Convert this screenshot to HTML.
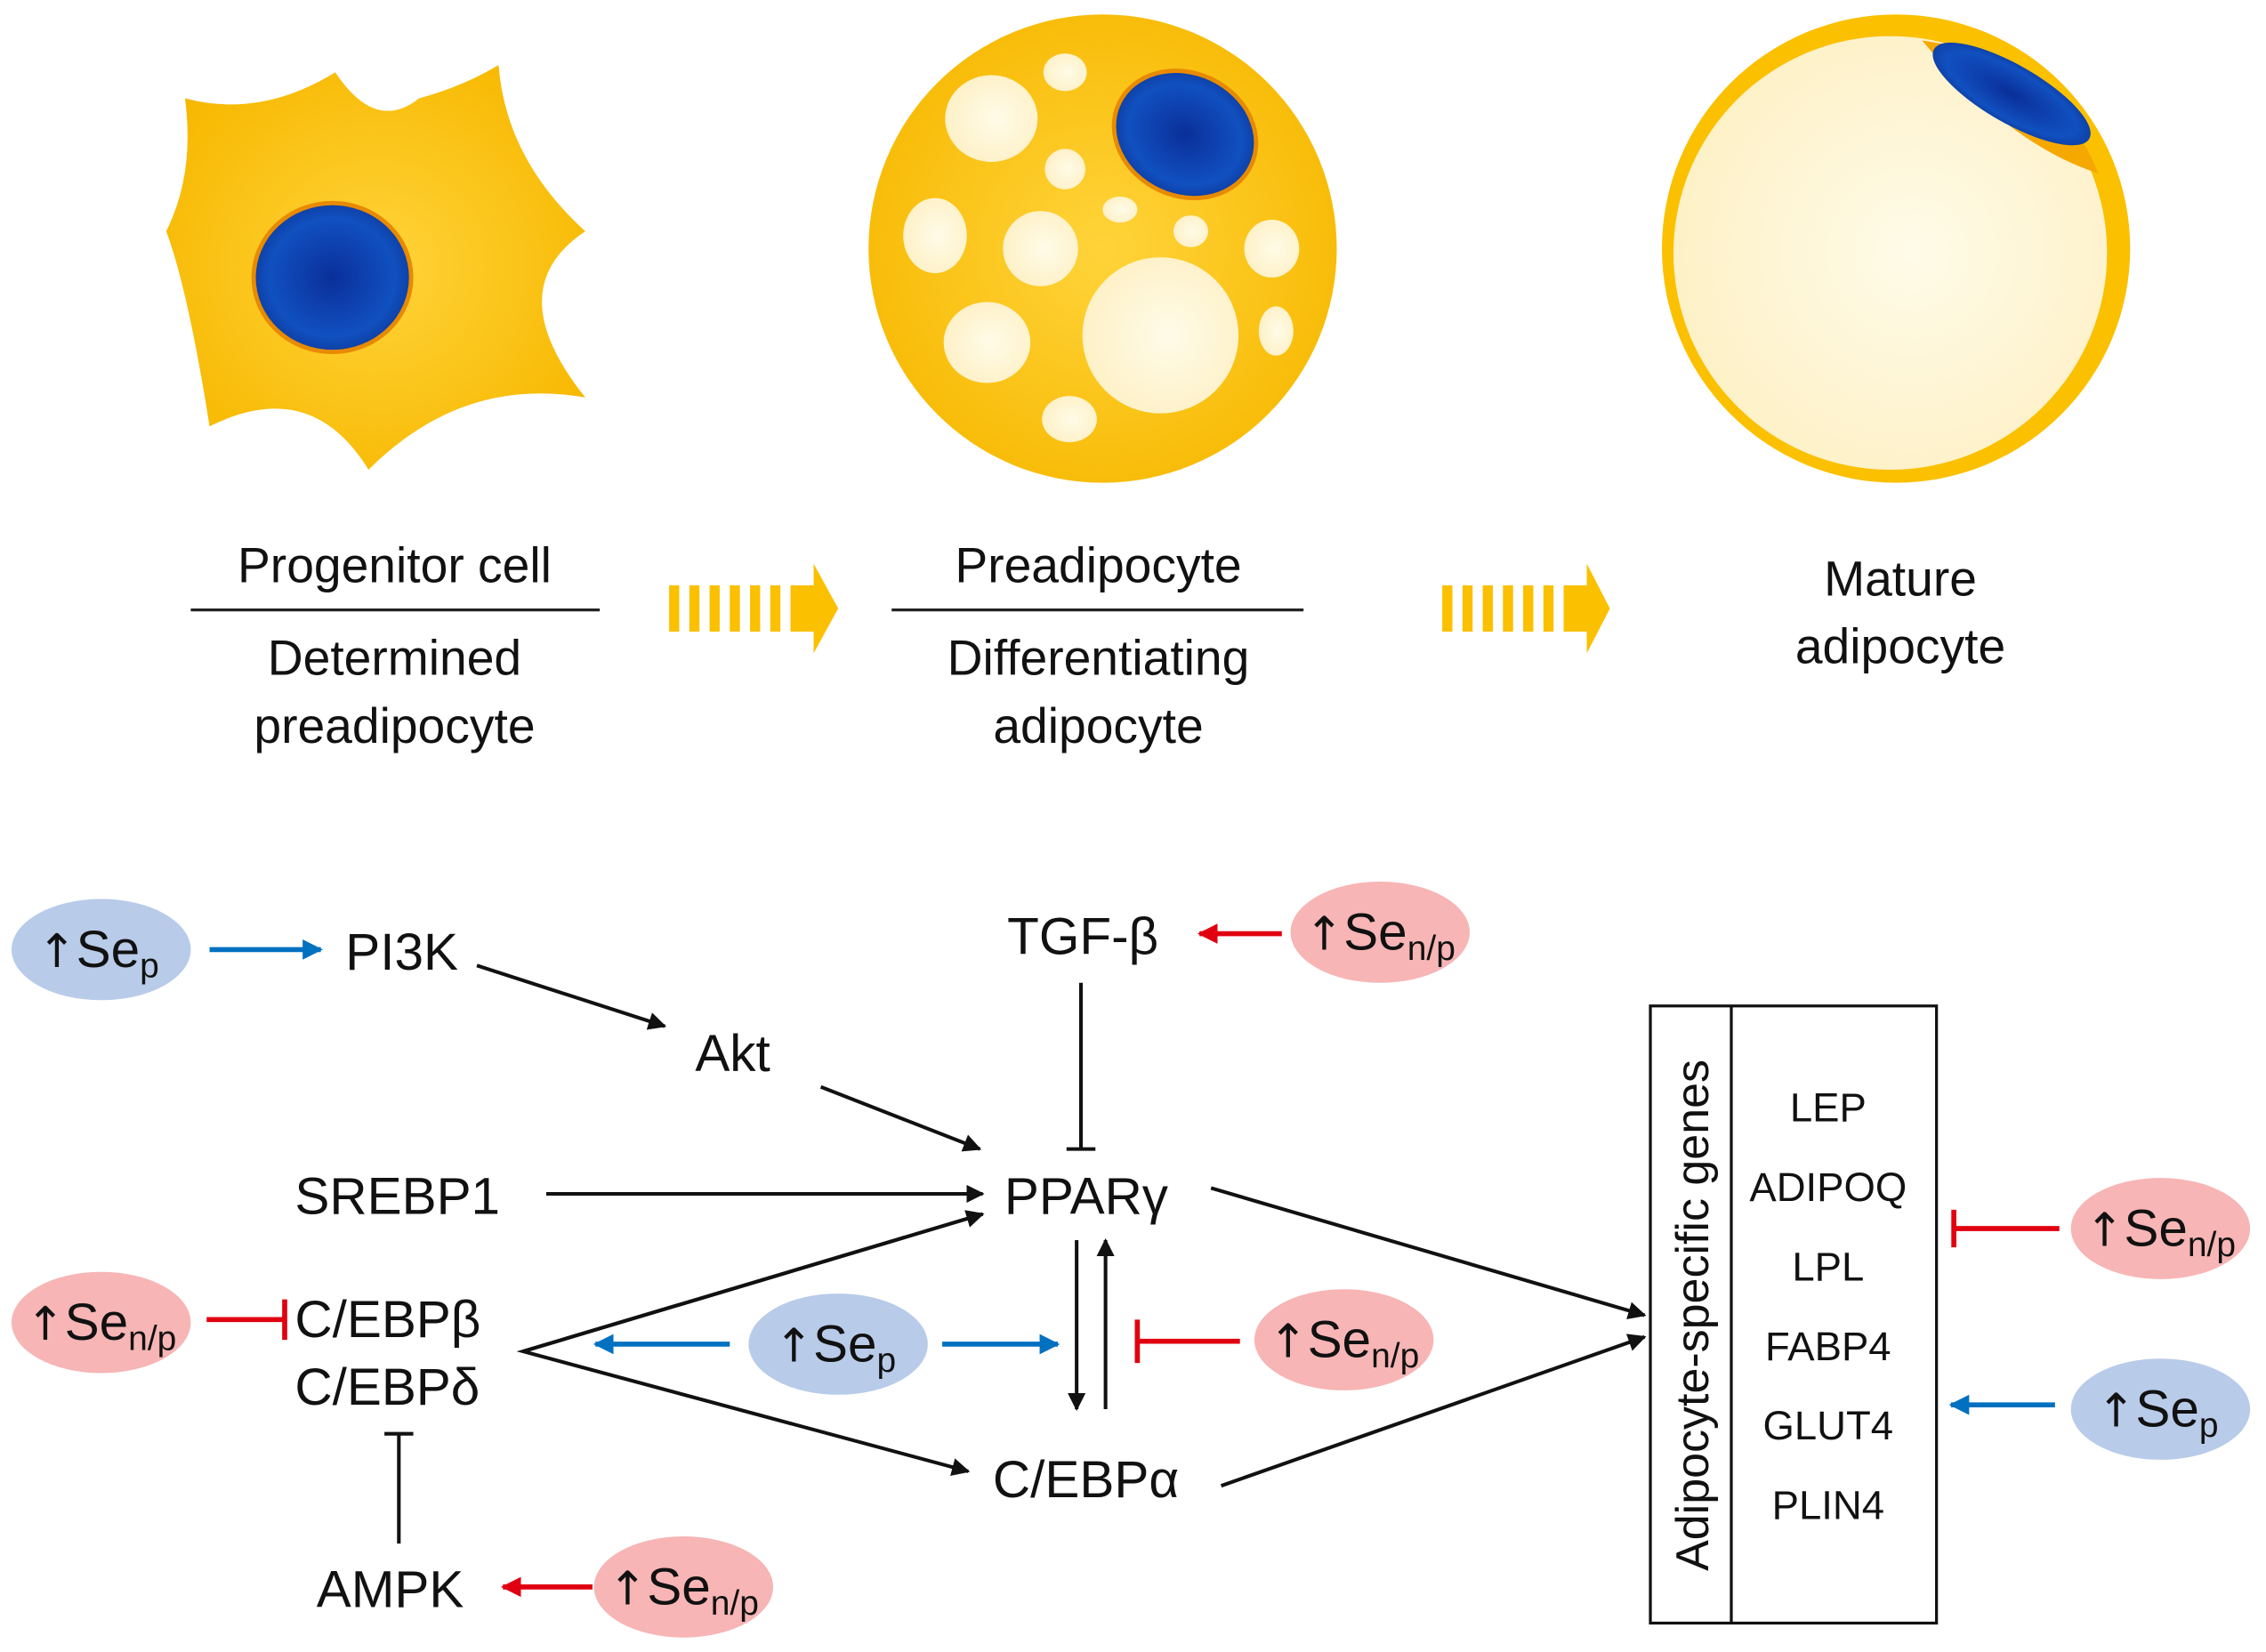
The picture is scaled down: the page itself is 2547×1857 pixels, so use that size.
<!DOCTYPE html>
<html><head><meta charset="utf-8"><style>
html,body{margin:0;padding:0;background:#fff;}
svg{display:block;}
text{font-family:"Liberation Sans",Arial,sans-serif;fill:#111;}
</style></head><body>
<svg width="2547" height="1857" viewBox="0 0 1568 1143" preserveAspectRatio="none" xmlns="http://www.w3.org/2000/svg">
<defs>
<radialGradient id="nuc" cx="0.5" cy="0.5" r="0.55"><stop offset="0" stop-color="#0a2f9a"/><stop offset="0.75" stop-color="#1150c0"/><stop offset="1" stop-color="#0d3a9c"/></radialGradient>
<radialGradient id="cell" cx="0.5" cy="0.5" r="0.6"><stop offset="0" stop-color="#ffd43a"/><stop offset="1" stop-color="#f7b800"/></radialGradient>
<radialGradient id="vac" cx="0.55" cy="0.5" r="0.6"><stop offset="0" stop-color="#fffbe8"/><stop offset="1" stop-color="#fdf0c4"/></radialGradient>
<marker id="ab" viewBox="0 0 10 10" refX="9" refY="5" markerWidth="5" markerHeight="5" orient="auto"><path d="M0,0 L10,5 L0,10 z" fill="#111"/></marker>
<marker id="abl" viewBox="0 0 10 10" refX="9" refY="5" markerWidth="4" markerHeight="4" orient="auto"><path d="M0,0 L10,5 L0,10 z" fill="#0070c0"/></marker>
<marker id="ar" viewBox="0 0 10 10" refX="9" refY="5" markerWidth="4" markerHeight="4" orient="auto"><path d="M0,0 L10,5 L0,10 z" fill="#e00010"/></marker>
</defs>

<path d="M128,68 Q180,82 232,50 Q260,92 290,68 Q320,60 345,45 Q350,110 405,160 Q345,200 405,275 Q320,260 255,325 Q215,260 145,295 Q130,200 115,160 Q135,120 128,68 z" fill="url(#cell)"/>
<ellipse cx="230" cy="192" rx="56" ry="53" fill="#e88a00"/>
<ellipse cx="230" cy="192" rx="53" ry="50" fill="url(#nuc)"/>

<circle cx="763" cy="172" r="162" fill="url(#cell)"/>
<g fill="url(#vac)">
<ellipse cx="686" cy="82" rx="32" ry="30"/>
<ellipse cx="737" cy="50" rx="15" ry="13"/>
<ellipse cx="737" cy="117" rx="14" ry="14"/>
<ellipse cx="647" cy="163" rx="22" ry="26"/>
<ellipse cx="720" cy="172" rx="26" ry="26"/>
<ellipse cx="775" cy="145" rx="12" ry="9"/>
<ellipse cx="824" cy="160" rx="12" ry="11"/>
<ellipse cx="880" cy="172" rx="19" ry="20"/>
<ellipse cx="683" cy="237" rx="30" ry="28"/>
<ellipse cx="803" cy="232" rx="54" ry="54"/>
<ellipse cx="883" cy="229" rx="12" ry="17"/>
<ellipse cx="740" cy="290" rx="19" ry="16"/>
</g>
<ellipse cx="820" cy="93" rx="52" ry="44" transform="rotate(25 820 93)" fill="#e88a00"/>
<ellipse cx="820" cy="93" rx="49" ry="41" transform="rotate(25 820 93)" fill="url(#nuc)"/>

<circle cx="1312" cy="172" r="162" fill="#fbc000"/>
<circle cx="1308" cy="175" r="150" fill="url(#vac)"/>
<path d="M1330,28 Q1420,40 1452,120 Q1390,100 1330,28 z" fill="#f5a800"/>
<ellipse cx="1392" cy="65" rx="62" ry="20" transform="rotate(30 1392 65)" fill="url(#nuc)"/>

<g font-size="34" text-anchor="middle">
<text x="273" y="403">Progenitor cell</text>
<text x="273" y="467">Determined</text>
<text x="273" y="514">preadipocyte</text>
<text x="760" y="403">Preadipocyte</text>
<text x="760" y="467">Differentiating</text>
<text x="760" y="514">adipocyte</text>
<text x="1315" y="412">Mature</text>
<text x="1315" y="459">adipocyte</text>
</g>
<line x1="132" y1="422" x2="415" y2="422" stroke="#222" stroke-width="2"/>
<line x1="617" y1="422" x2="902" y2="422" stroke="#222" stroke-width="2"/>
<g fill="#fbc000">
<rect x="463" y="405" width="7" height="32"/><rect x="477" y="405" width="7" height="32"/><rect x="491" y="405" width="7" height="32"/><rect x="505" y="405" width="7" height="32"/><rect x="519" y="405" width="7" height="32"/><rect x="533" y="405" width="7" height="32"/><rect x="547" y="405" width="18" height="32"/>
<path d="M563,390 L580,421 L563,452 z"/>
<rect x="998" y="405" width="7" height="32"/><rect x="1012" y="405" width="7" height="32"/><rect x="1026" y="405" width="7" height="32"/><rect x="1040" y="405" width="7" height="32"/><rect x="1054" y="405" width="7" height="32"/><rect x="1068" y="405" width="7" height="32"/><rect x="1082" y="405" width="18" height="32"/>
<path d="M1098,390 L1114,421 L1098,452 z"/>
</g>

<g fill="#b8cbe9">
<ellipse cx="70" cy="657" rx="62" ry="35"/>
<ellipse cx="580" cy="930" rx="62" ry="35"/>
<ellipse cx="1495" cy="975" rx="62" ry="35"/>
</g>
<g fill="#f7b5b5">
<ellipse cx="955" cy="645" rx="62" ry="35"/>
<ellipse cx="70" cy="915" rx="62" ry="35"/>
<ellipse cx="930" cy="927" rx="62" ry="35"/>
<ellipse cx="473" cy="1098" rx="62" ry="35"/>
<ellipse cx="1495" cy="850" rx="62" ry="35"/>
</g>
<g font-size="36" text-anchor="middle">
<text x="68" y="669"><tspan font-family="DejaVu Sans" font-size="32">↑</tspan>Se<tspan font-size="24" dy="7">p</tspan></text>
<text x="578" y="942"><tspan font-family="DejaVu Sans" font-size="32">↑</tspan>Se<tspan font-size="24" dy="7">p</tspan></text>
<text x="1493" y="987"><tspan font-family="DejaVu Sans" font-size="32">↑</tspan>Se<tspan font-size="24" dy="7">p</tspan></text>
<text x="955" y="657"><tspan font-family="DejaVu Sans" font-size="32">↑</tspan>Se<tspan font-size="24" dy="7">n/p</tspan></text>
<text x="70" y="927"><tspan font-family="DejaVu Sans" font-size="32">↑</tspan>Se<tspan font-size="24" dy="7">n/p</tspan></text>
<text x="930" y="939"><tspan font-family="DejaVu Sans" font-size="32">↑</tspan>Se<tspan font-size="24" dy="7">n/p</tspan></text>
<text x="473" y="1110"><tspan font-family="DejaVu Sans" font-size="32">↑</tspan>Se<tspan font-size="24" dy="7">n/p</tspan></text>
<text x="1495" y="862"><tspan font-family="DejaVu Sans" font-size="32">↑</tspan>Se<tspan font-size="24" dy="7">n/p</tspan></text>
</g>

<g font-size="36">
<text x="239" y="671">PI3K</text>
<text x="481" y="741">Akt</text>
<text x="697" y="660">TGF-β</text>
<text x="204" y="840">SREBP1</text>
<text x="695" y="840">PPARγ</text>
<text x="204" y="925">C/EBPβ</text>
<text x="204" y="972">C/EBPδ</text>
<text x="687" y="1036">C/EBPα</text>
<text x="219" y="1112">AMPK</text>
</g>

<g stroke="#111" stroke-width="2.5" fill="none">
<line x1="330" y1="668" x2="460" y2="710" marker-end="url(#ab)"/>
<line x1="568" y1="752" x2="678" y2="795" marker-end="url(#ab)"/>
<line x1="378" y1="826" x2="680" y2="826" marker-end="url(#ab)"/>
<polyline points="680,840 362,935 670,1018" marker-end="url(#ab)"/>
<line x1="362" y1="935" x2="680" y2="840" marker-end="url(#ab)"/>
<line x1="748" y1="680" x2="748" y2="795"/>
<line x1="738" y1="795" x2="758" y2="795"/>
<line x1="745" y1="858" x2="745" y2="975" marker-end="url(#ab)"/>
<line x1="765" y1="975" x2="765" y2="858" marker-end="url(#ab)"/>
<line x1="276" y1="1068" x2="276" y2="992"/>
<line x1="266" y1="992" x2="286" y2="992"/>
<line x1="838" y1="822" x2="1138" y2="910" marker-end="url(#ab)"/>
<line x1="845" y1="1028" x2="1138" y2="925" marker-end="url(#ab)"/>
</g>

<g stroke="#0070c0" stroke-width="3.5" fill="none">
<line x1="145" y1="657" x2="222" y2="657" marker-end="url(#abl)"/>
<line x1="505" y1="930" x2="412" y2="930" marker-end="url(#abl)"/>
<line x1="652" y1="930" x2="732" y2="930" marker-end="url(#abl)"/>
<line x1="1422" y1="972" x2="1350" y2="972" marker-end="url(#abl)"/>
</g>
<g stroke="#e00010" stroke-width="3.5" fill="none">
<line x1="887" y1="646" x2="830" y2="646" marker-end="url(#ar)"/>
<line x1="410" y1="1098" x2="348" y2="1098" marker-end="url(#ar)"/>
<line x1="143" y1="913" x2="197" y2="913"/>
<line x1="197" y1="899" x2="197" y2="927"/>
<line x1="858" y1="928" x2="787" y2="928"/>
<line x1="787" y1="913" x2="787" y2="943"/>
<line x1="1425" y1="850" x2="1352" y2="850"/>
<line x1="1352" y1="837" x2="1352" y2="863"/>
</g>

<rect x="1142" y="696" width="198" height="427" fill="none" stroke="#111" stroke-width="2"/>
<line x1="1198" y1="696" x2="1198" y2="1123" stroke="#111" stroke-width="2"/>
<text x="0" y="0" font-size="32" text-anchor="middle" transform="translate(1182 910) rotate(-90)">Adipocyte-specific genes</text>
<g font-size="28" text-anchor="middle">
<text x="1265" y="776">LEP</text>
<text x="1265" y="831">ADIPOQ</text>
<text x="1265" y="886">LPL</text>
<text x="1265" y="941">FABP4</text>
<text x="1265" y="996">GLUT4</text>
<text x="1265" y="1051">PLIN4</text>
</g>
</svg>
</body></html>
